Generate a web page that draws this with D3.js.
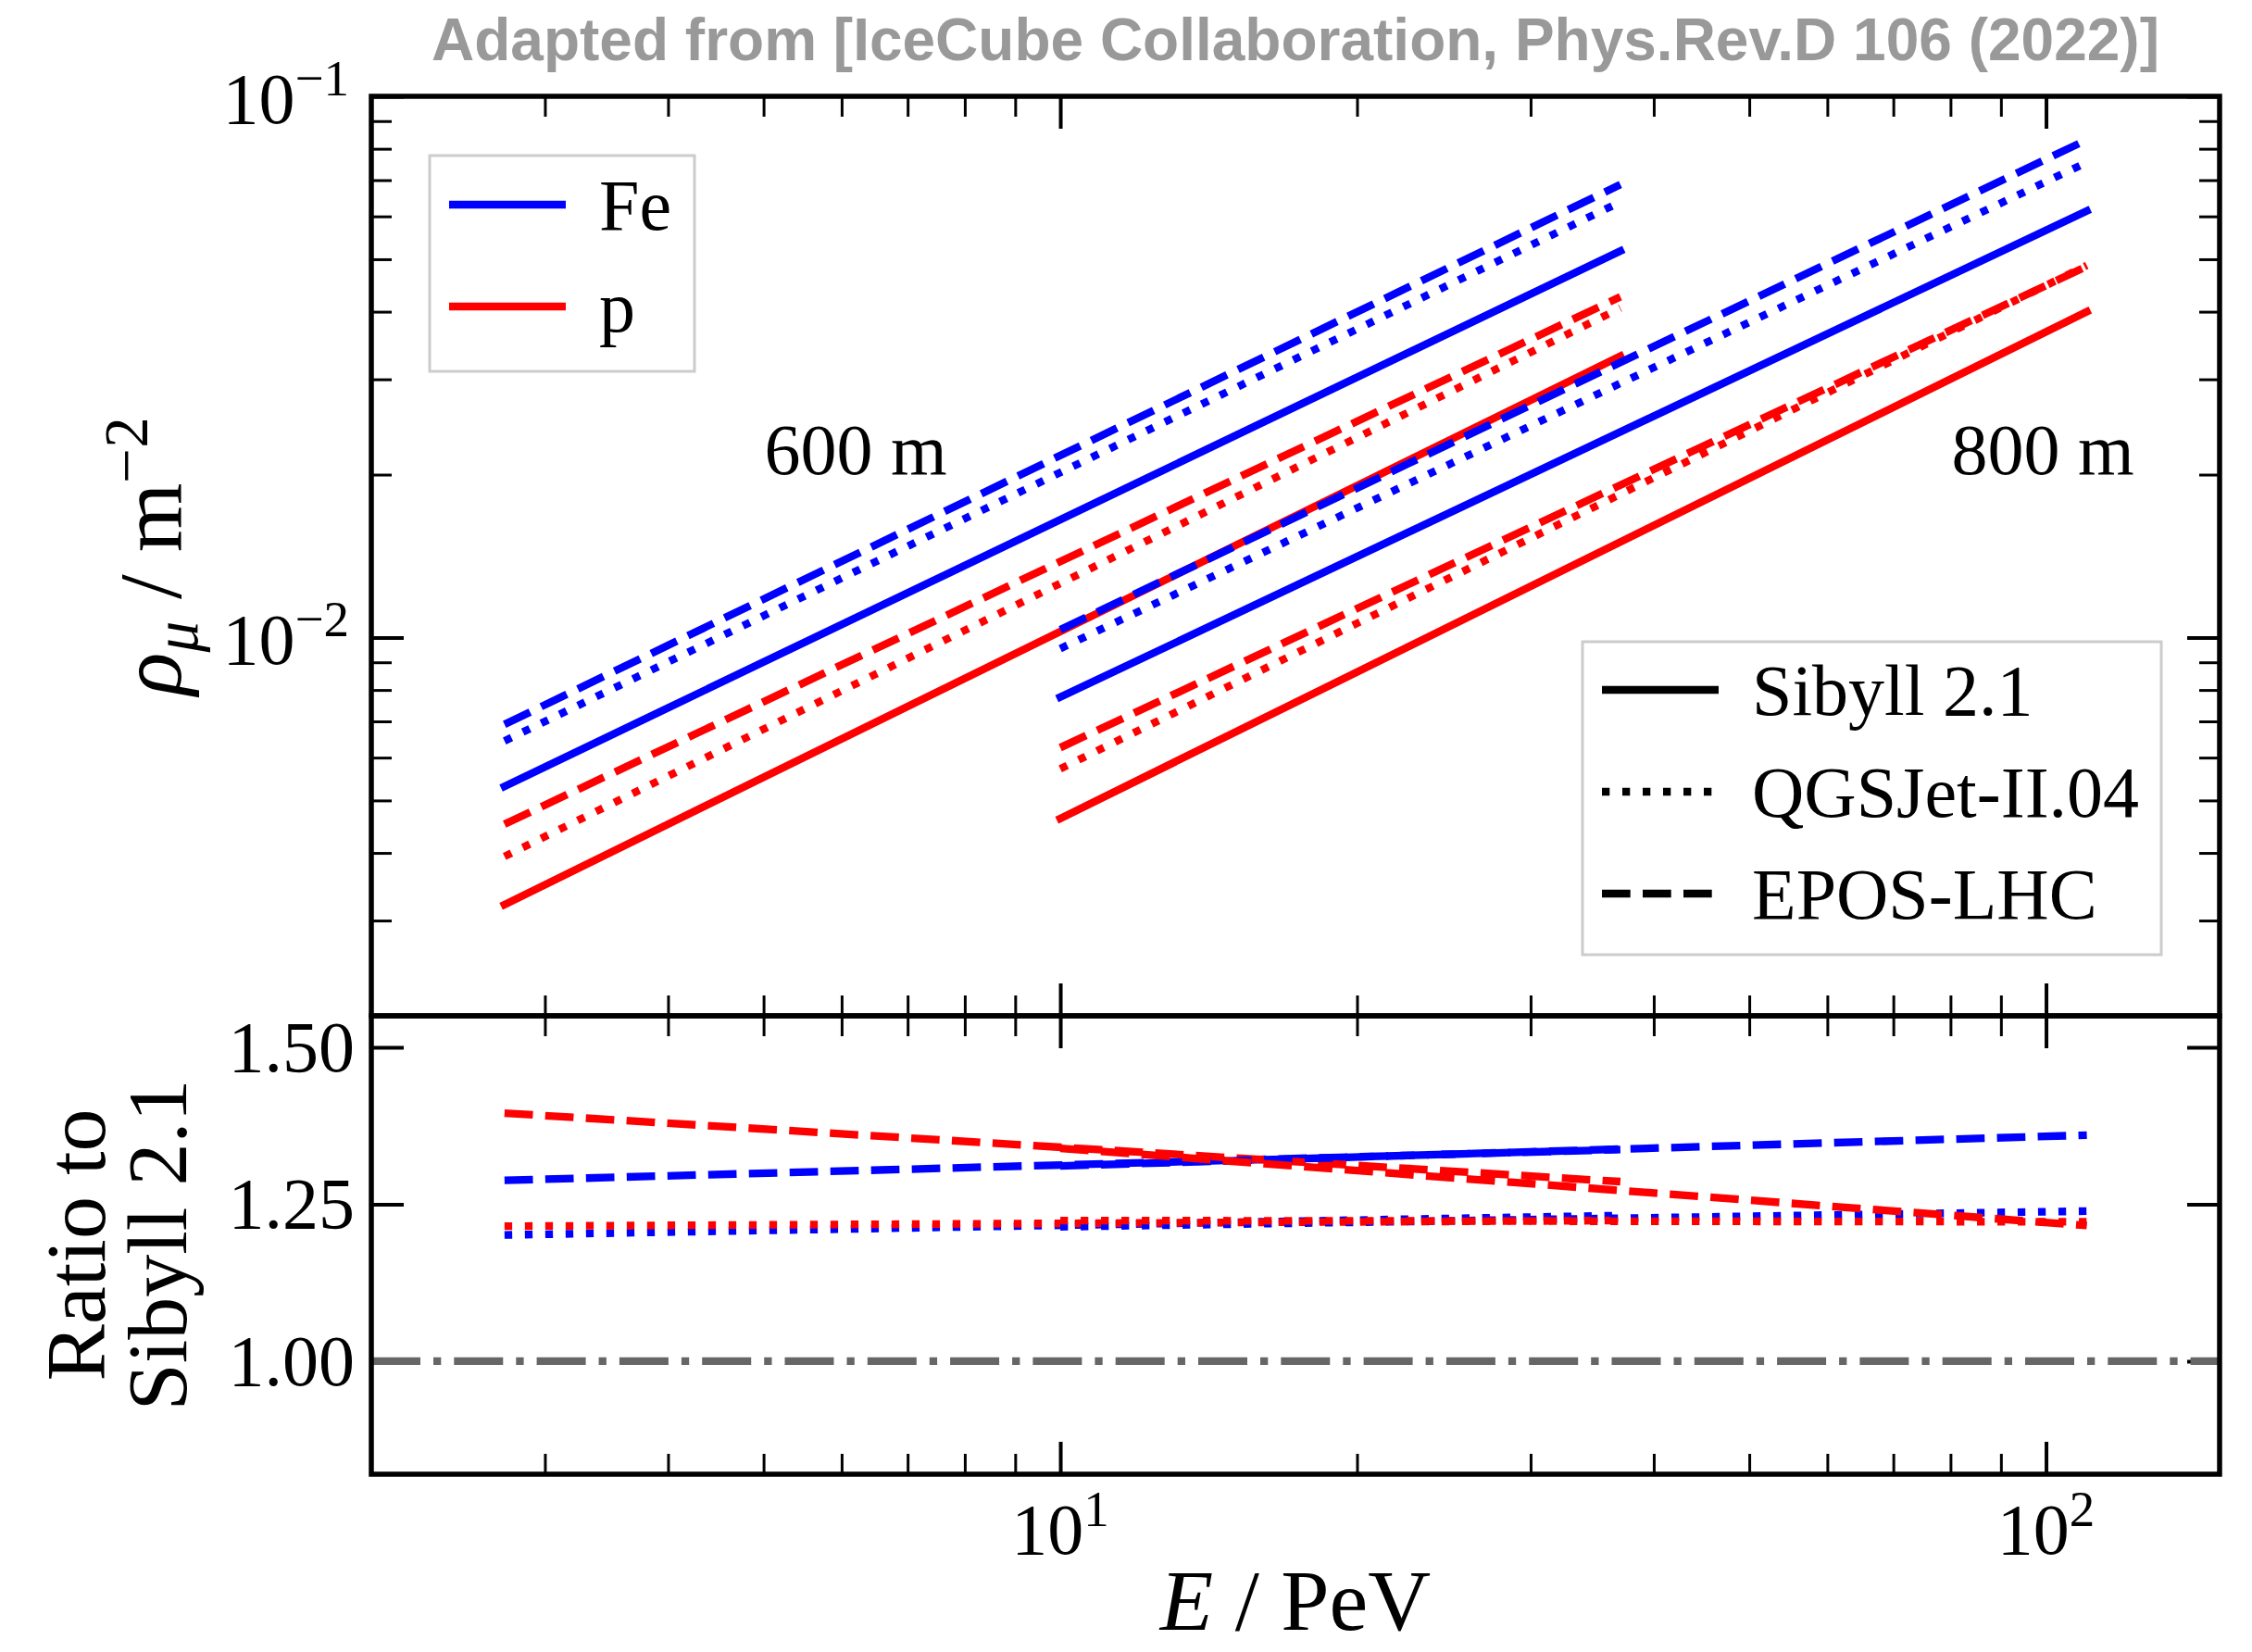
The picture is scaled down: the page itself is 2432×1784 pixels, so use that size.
<!DOCTYPE html>
<html lang="en">
<head>
  <meta charset="UTF-8">
  <title>Muon density vs energy</title>
  <script src="https://d3js.org/d3.v7.min.js"></script>
  <style>
    body { margin: 0; background: #fff; }
    svg { display: block; background: #fff; }
    text { font-family: 'Liberation Serif', 'DejaVu Serif', serif; fill: #000; }
    .title { font-family: 'Liberation Sans', Arial, sans-serif; font-weight: bold; fill: #999; }
  </style>
</head>
<body>
  <svg width="2432" height="1784"></svg>

  <script>
    // energy ranges (PeV) covered by each distance
    const energy600 = [2.73, 37];
    const energy800 = [10, 110];
    const models = ['Sibyll 2.1', 'QGSJet-II.04', 'EPOS-LHC'];
    const primaries = ['Fe', 'p'];

    // muon density (m^-2) at start / end of range, ordered as models
    const rho600Fe = [[0.00531, 0.0518], [0.00644, 0.0638], [0.00691, 0.0687]];
    const rho600p  = [[0.00321, 0.0331], [0.00394, 0.0406], [0.00452, 0.0426]];
    const rho800Fe = [[0.00776, 0.0614], [0.00954, 0.0755], [0.01034, 0.0831]];
    const rho800p  = [[0.00463, 0.0400], [0.00572, 0.0487], [0.00626, 0.0485]];

    // ratio to Sibyll 2.1, ordered QGSJet, EPOS
    const ratio600Fe = [[1.201, 1.232], [1.288, 1.337]];
    const ratio600p  = [[1.215, 1.224], [1.395, 1.286]];
    const ratio800Fe = [[1.214, 1.239], [1.311, 1.360]];
    const ratio800p  = [[1.224, 1.222], [1.339, 1.216]];

    const xMajor = [10, 100];
    const rhoMajor = [0.01, 0.1];
    const ratioTicks = [1.00, 1.25, 1.50];

    const colors = { Fe: '#0000ff', p: '#ff0000' };
    const dashes = ['none', '8.3 13.7', '30.7 13.3'];
    const lw = 8.3;

    const pLeft = 401, pRight = 2397, pTop = 104, pSplit = 1097, pBottom = 1592;

    const svg = d3.select('svg');

    const x = d3.scaleLog().domain([2, 150]).range([pLeft, pRight]);
    const yTop = d3.scaleLog().domain([0.002, 0.1]).range([pSplit, pTop]);
    const yBot = d3.scaleLinear().domain([0.82, 1.55]).range([pBottom, pSplit]);

    const isMajor = v => Math.abs(Math.log10(v) - Math.round(Math.log10(v))) < 1e-6;
    const xMinor = x.ticks().filter(v => !isMajor(v));
    const rhoMinor = yTop.ticks().filter(v => !isMajor(v));

    function tickSet(axis, values, size, width, tx, ty) {
      svg.append('g')
        .attr('transform', `translate(${tx},${ty})`)
        .call(axis.tickValues(values).tickSize(-size).tickFormat(''))
        .call(g => g.select('.domain').remove())
        .call(g => g.selectAll('line').attr('stroke', '#000').attr('stroke-width', width));
    }

    // x ticks on top, split (both sides) and bottom
    [[d3.axisTop, pTop], [d3.axisBottom, pSplit], [d3.axisTop, pSplit], [d3.axisBottom, pBottom]]
      .forEach(([fn, y]) => {
        tickSet(fn(x), xMinor, 22, 3, 0, y);
        tickSet(fn(x), xMajor, 35, 4, 0, y);
      });

    // y ticks, upper panel
    tickSet(d3.axisLeft(yTop), rhoMinor, 22, 3, pLeft, 0);
    tickSet(d3.axisRight(yTop), rhoMinor, 22, 3, pRight, 0);
    tickSet(d3.axisLeft(yTop), rhoMajor, 35, 4, pLeft, 0);
    tickSet(d3.axisRight(yTop), rhoMajor, 35, 4, pRight, 0);
    // y ticks, lower panel
    tickSet(d3.axisLeft(yBot), ratioTicks, 35, 4, pLeft, 0);
    tickSet(d3.axisRight(yBot), ratioTicks, 35, 4, pRight, 0);

    // reference line at ratio 1
    svg.append('line')
      .attr('x1', pLeft).attr('x2', pRight)
      .attr('y1', yBot(1)).attr('y2', yBot(1))
      .attr('stroke', '#666').attr('stroke-width', lw)
      .attr('stroke-dasharray', '53 14 8.3 14');

    const lineTop = d3.line().x(d => x(d[0])).y(d => yTop(d[1]));
    const lineBot = d3.line().x(d => x(d[0])).y(d => yBot(d[1]));

    const rhoSets = [
      [energy600, rho600Fe, 'Fe'], [energy600, rho600p, 'p'],
      [energy800, rho800Fe, 'Fe'], [energy800, rho800p, 'p']
    ];
    rhoSets.forEach(([energy, vals, prim]) => {
      vals.forEach((v, m) => {
        svg.append('path')
          .attr('d', lineTop(energy.map((e, i) => [e, v[i]])))
          .attr('fill', 'none')
          .attr('stroke', colors[prim])
          .attr('stroke-width', lw)
          .attr('stroke-linecap', m === 0 ? 'square' : 'butt')
          .attr('stroke-dasharray', dashes[m]);
      });
    });

    const ratioSets = [
      [energy600, ratio600Fe, 'Fe'], [energy600, ratio600p, 'p'],
      [energy800, ratio800Fe, 'Fe'], [energy800, ratio800p, 'p']
    ];
    ratioSets.forEach(([energy, vals, prim]) => {
      vals.forEach((v, m) => {
        svg.append('path')
          .attr('d', lineBot(energy.map((e, i) => [e, v[i]])))
          .attr('fill', 'none')
          .attr('stroke', colors[prim])
          .attr('stroke-width', lw)
          .attr('stroke-dasharray', dashes[m + 1]);
      });
    });

    // spines
    [[pTop, pSplit], [pSplit, pBottom]].forEach(([y0, y1]) => {
      svg.append('rect')
        .attr('x', pLeft).attr('y', y0)
        .attr('width', pRight - pLeft).attr('height', y1 - y0)
        .attr('fill', 'none').attr('stroke', '#000').attr('stroke-width', 5.5);
    });

    // tick labels
    function powerLabel(xp, yp, exp, anchor) {
      const t = svg.append('text')
        .attr('x', xp).attr('y', yp)
        .attr('text-anchor', anchor)
        .style('font-size', '78px');
      t.append('tspan').text('10');
      t.append('tspan').attr('dy', -30).style('font-size', '55px').text(exp);
    }
    rhoMajor.forEach(v => powerLabel(377, yTop(v) + 29, '\u2212' + Math.round(-Math.log10(v)), 'end'));
    xMajor.forEach(v => powerLabel(x(v), 1678, String(Math.round(Math.log10(v))), 'middle'));
    ratioTicks.forEach(v => {
      svg.append('text')
        .attr('x', 383).attr('y', yBot(v) + 26)
        .attr('text-anchor', 'end')
        .style('font-size', '78px')
        .text(v.toFixed(2));
    });

    // axis labels
    const xl = svg.append('text')
      .attr('x', x(Math.sqrt(2 * 150))).attr('y', 1760)
      .attr('text-anchor', 'middle')
      .style('font-size', '94px');
    xl.append('tspan').style('font-style', 'italic').text('E');
    xl.append('tspan').text(' / PeV');

    const yl = svg.append('text')
      .attr('transform', `translate(195,${(pTop + pSplit) / 2}) rotate(-90)`)
      .attr('text-anchor', 'middle')
      .style('font-size', '96px');
    yl.append('tspan').style('font-style', 'italic').text('\u03c1');
    yl.append('tspan').attr('dy', 18).style('font-style', 'italic').style('font-size', '67px').text('\u03bc');
    yl.append('tspan').attr('dy', -18).text(' / m');
    yl.append('tspan').attr('dy', -36).style('font-size', '67px').text('\u22122');

    const rl = svg.append('text')
      .attr('transform', `translate(113,${(pSplit + pBottom) / 2}) rotate(-90)`)
      .attr('text-anchor', 'middle')
      .style('font-size', '92px');
    rl.append('tspan').attr('x', 0).text('Ratio to');
    rl.append('tspan').attr('x', 0).attr('dy', 88).text('Sibyll 2.1');

    // distance labels
    [['600 m', 924], ['800 m', 2206]].forEach(([s, cx]) => {
      svg.append('text')
        .attr('x', cx).attr('y', 512)
        .attr('text-anchor', 'middle')
        .style('font-size', '78px')
        .text(s);
    });

    // legends
    function legend(box, rows) {
      svg.append('rect')
        .attr('x', box[0]).attr('y', box[1])
        .attr('width', box[2] - box[0]).attr('height', box[3] - box[1])
        .attr('fill', '#fff').attr('fill-opacity', 0.8)
        .attr('stroke', '#ccc').attr('stroke-width', 3);
      rows.forEach(r => {
        svg.append('line')
          .attr('x1', box[0] + 21).attr('x2', box[0] + 147)
          .attr('y1', r.y).attr('y2', r.y)
          .attr('stroke', r.color).attr('stroke-width', lw)
          .attr('stroke-dasharray', r.dash);
        svg.append('text')
          .attr('x', box[0] + 183).attr('y', r.y + 27)
          .style('font-size', '78px')
          .text(r.label);
      });
    }
    legend([464, 168, 750, 401], primaries.map((p, i) => ({ label: p, color: colors[p], dash: 'none', y: 221 + i * 110 })));
    legend([1709, 693, 2334, 1031], models.map((m, i) => ({ label: m, color: '#000', dash: dashes[i], y: 745 + i * 110 })));

    // title
    svg.append('text')
      .attr('class', 'title')
      .attr('x', (pLeft + pRight) / 2).attr('y', 65)
      .attr('text-anchor', 'middle')
      .style('font-size', '64px')
      .text('Adapted from [IceCube Collaboration, Phys.Rev.D 106 (2022)]');
  </script>
</body>
</html>
